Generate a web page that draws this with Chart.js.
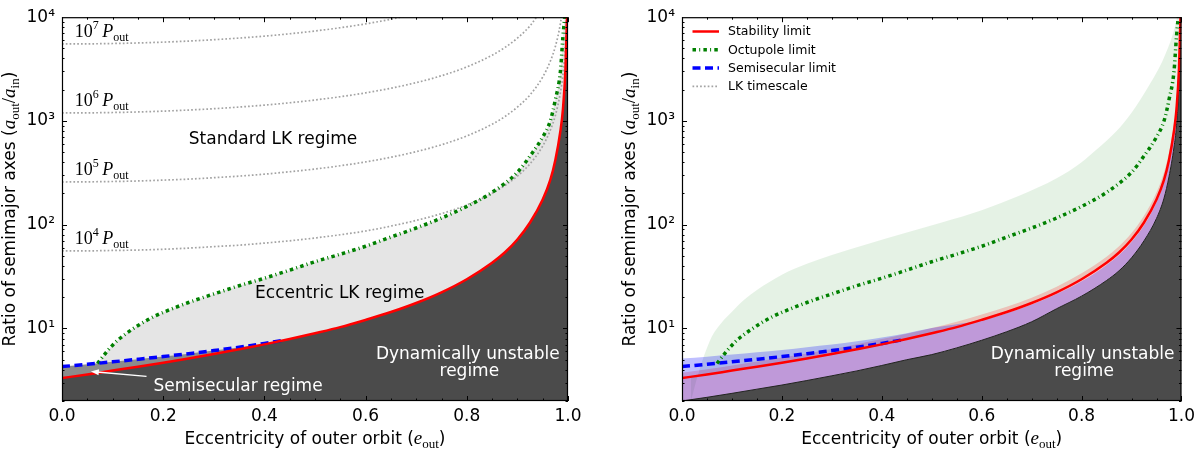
<!DOCTYPE html>
<html>
<head>
<meta charset="utf-8">
<script src="https://cdn.jsdelivr.net/npm/chart.js@4.4.1/dist/chart.umd.min.js"></script>
<style>
  html, body { margin: 0; padding: 0; background: #fff; }
  #wrap { display: flex; width: 1200px; height: 450px; }
  canvas { display: block; }
</style>
</head>
<body>
<div id="wrap">
  <canvas id="left-chart" width="600" height="450"></canvas>
  <canvas id="right-chart" width="600" height="450"></canvas>
</div>
<script>
// Eccentricity grid shared by most curves
const ecc = [0, 0.05, 0.1, 0.15, 0.2, 0.25, 0.3, 0.35, 0.4, 0.45,
  0.5, 0.55, 0.6, 0.65, 0.7, 0.75, 0.8, 0.85,
  0.875, 0.9, 0.925, 0.95, 0.965, 0.975, 0.985, 0.99, 0.995, 0.998, 1.0];

// Stability limit (red)
const stabilityLimit = [3.33, 3.6, 3.93, 4.28, 4.68, 5.14, 5.67, 6.3, 7.03, 7.92,
  9.0, 10.3, 12.1, 14.4, 17.6, 22.3, 29.8, 43,
  54, 72, 105, 175, 270, 420, 800, 1300, 3200, 10000, 30000];

// Semisecular limit (blue), ends where it meets the stability limit
const semiEcc = [0, 0.05, 0.1, 0.15, 0.2, 0.25, 0.3, 0.35, 0.4, 0.44];
const semisecularLimit = [4.29, 4.52, 4.77, 5.05, 5.36, 5.72, 6.12, 6.6, 7.18, 7.75];

// Octupole limit (green)
const octEcc = [0.07, 0.08, 0.09, 0.1, 0.11, 0.125, 0.14, 0.16, 0.18, 0.2,
  0.225, 0.25, 0.3, 0.35, 0.4, 0.45, 0.5, 0.55, 0.6, 0.65, 0.7, 0.75, 0.8, 0.85,
  0.9, 0.925, 0.95, 0.965, 0.975, 0.985, 0.99, 0.995];
const octupoleLimit = [4.6, 5.3, 6.1, 6.9, 7.7, 8.8, 9.9, 11.4, 12.9, 14.3,
  16, 17.8, 21.5, 25.8, 30.5, 36.5, 44, 52, 62, 76, 93, 116, 150, 205,
  320, 460, 700, 1000, 1600, 3000, 6500, 12000];

// LK timescale contours (grey dotted), on the ecc grid until they leave the plot
const lkExponents = [4, 5, 6, 7];
const lk1e4 = [56, 56, 56.5, 57, 58, 59.5, 61.5, 63.5, 66.5, 70,
  74.5, 80, 87, 97, 110, 128, 155, 201,
  238, 294, 387, 573, 814, 1130, 1880, 2810, 5600, 14000];
const lk1e5 = [258, 259, 261, 264, 269, 275, 284, 294, 307, 324,
  344, 370, 403, 447, 506, 590, 717, 930,
  1100, 1360, 1785, 2650, 3760, 5220, 8670, 12960];
const lk1e6 = [1194, 1197, 1206, 1221, 1244, 1274, 1312, 1361, 1421, 1497,
  1592, 1712, 1866, 2068, 2341, 2729, 3317, 4303,
  5094, 6284, 8263, 12245];
const lk1e7 = [5520, 5534, 5576, 5647, 5750, 5888, 6066, 6291, 6571, 6922,
  7360, 7914, 8625, 9559, 10824];

// Right panel: uncertainty bands
const octBandEcc = [0.018, 0.025, 0.035, 0.045, 0.06, 0.08, 0.1, 0.125, 0.15, 0.2,
  0.25, 0.3, 0.37, 0.45, 0.52, 0.6, 0.675, 0.75, 0.8, 0.83, 0.87, 0.9,
  0.935, 0.965, 0.985, 0.995];
const octBandUpper = [2.0, 2.7, 4.0, 5.6, 8.4, 11.5, 14.5, 19, 23.5, 33,
  42, 51, 65, 84, 105, 138, 190, 280, 400, 530, 800, 1200,
  2200, 4100, 7500, 12000];
const stabBandUpper = [3.75, 4.05, 4.4, 4.8, 5.25, 5.75, 6.35, 7.05, 7.9, 8.9,
  10.1, 11.6, 13.6, 16.2, 19.8, 25.2, 34, 49,
  62, 83, 122, 205, 320, 500, 960, 1600, 4000, 12000];
const semiBandUpper = [5.15, 5.35, 5.6, 5.9, 6.2, 6.6, 7.0, 7.55, 8.2, 9.0,
  10.1, 11.0, 12.0, 14.0, 17.0, 21.5, 28.5, 41,
  51, 68, 99, 165, 255, 400, 760, 1230, 3000, 9500];
const stabBandLower = [2.0, 2.17, 2.37, 2.6, 2.85, 3.15, 3.5, 3.9, 4.4, 5.0,
  5.6, 6.5, 7.7, 9.3, 11.6, 15.5, 20.5, 29,
  36, 48, 70, 115, 180, 290, 560, 900, 2300, 8000, 30000];

// Axis ticks
const xTickStep = 0.2;
const yDecades = [10, 100, 1000, 10000];
const yTickLabels = ['10\u00b9', '10\u00b2', '10\u00b3', '10\u2074'];

const SANS = '"DejaVu Sans", sans-serif';
const SERIF = '"Liberation Serif", "DejaVu Serif", serif';
const DARK = '#4b4b4b';
const MID = '#8c8c8c';
const LIGHT = '#e5e5e5';
const RED = '#ff0000';
const BLUE = '#0000ff';
const GREEN = '#008000';
const LKGREY = '#a3a3a3';

const styles = {
  stab: { borderColor: RED, borderWidth: 2.5, borderDash: [] },
  semi: { borderColor: BLUE, borderWidth: 3.5, borderDash: [8, 4.5] },
  oct: { borderColor: GREEN, borderWidth: 3.5, borderDash: [3.5, 3.2, 1, 3.2] },
  lk: { borderColor: LKGREY, borderWidth: 1.7, borderDash: [1.7, 2.1] }
};

function pts(xs, ys) {
  return ys.map((y, i) => ({ x: xs[i], y: y }));
}

function lineSet(label, data, style, order) {
  return Object.assign({
    label: label, data: data, fill: false, pointRadius: 0, clip: 0,
    cubicInterpolationMode: 'monotone', order: order
  }, style);
}

function fillSet(data, fill, color, order, border) {
  return {
    data: data, fill: fill, backgroundColor: color, pointRadius: 0, clip: 0,
    borderWidth: border ? border.width : 0, borderColor: border ? border.color : 'transparent',
    cubicInterpolationMode: 'monotone', order: order
  };
}

function makeScales(yWidth) {
  return {
    x: {
      type: 'linear', min: 0, max: 1,
      grid: { display: false, drawTicks: false }, border: { display: false },
      ticks: {
        stepSize: xTickStep, padding: 5, color: '#000', maxRotation: 0,
        font: { family: SANS, size: 17 }, callback: v => v.toFixed(1)
      },
      afterFit: s => { s.height = 49; }
    },
    y: {
      type: 'logarithmic', min: 2, max: 10000,
      grid: { display: false, drawTicks: false }, border: { display: false },
      ticks: {
        padding: 7, color: '#000', font: { family: SANS, size: 17 },
        callback: v => yTickLabels[yDecades.indexOf(v)]
      },
      afterBuildTicks: s => { s.ticks = yDecades.map(v => ({ value: v })); },
      afterFit: s => { s.width = yWidth; }
    }
  };
}

// Draws runs of text with different fonts / offsets on one baseline
function drawRich(ctx, runs, x, y, align) {
  let total = 0;
  runs.forEach(r => { ctx.font = r.font; r.w = ctx.measureText(r.text).width; total += r.w; });
  let cx = align === 'center' ? x - total / 2 : x;
  runs.forEach(r => {
    ctx.font = r.font;
    ctx.fillText(r.text, cx, y + (r.dy || 0));
    cx += r.w;
  });
}

const yTitleRuns = () => [
  { text: 'Ratio of semimajor axes (', font: `17px ${SANS}` },
  { text: 'a', font: `italic 19px ${SERIF}` },
  { text: 'out', font: `13px ${SERIF}`, dy: 4 },
  { text: '/', font: `19px ${SERIF}` },
  { text: 'a', font: `italic 19px ${SERIF}` },
  { text: 'in', font: `13px ${SERIF}`, dy: 4 },
  { text: ')', font: `17px ${SANS}` }
];
const xTitleRuns = () => [
  { text: 'Eccentricity of outer orbit (', font: `17px ${SANS}` },
  { text: 'e', font: `italic 19px ${SERIF}` },
  { text: 'out', font: `13px ${SERIF}`, dy: 4 },
  { text: ')', font: `17px ${SANS}` }
];

// Frame, inward ticks and axis titles
function framePlugin(yTitleX) {
  return {
    id: 'frame',
    afterDraw(chart) {
      const { ctx, chartArea: a, scales: { x, y } } = chart;
      ctx.save();
      ctx.strokeStyle = '#000';
      ctx.lineWidth = 1;
      ctx.setLineDash([]);
      ctx.beginPath();
      for (let i = 0; i <= 20; i++) {
        const px = Math.round(x.getPixelForValue(i * 0.05)) + 0.5;
        const len = i % 4 === 0 ? 5 : 2.5;
        ctx.moveTo(px, a.bottom); ctx.lineTo(px, a.bottom - len);
        ctx.moveTo(px, a.top); ctx.lineTo(px, a.top + len);
      }
      for (let d = 0; d < 4; d++) {
        for (let m = 1; m <= 9; m++) {
          const v = m * Math.pow(10, d);
          if (v < 2 || v > 10000) continue;
          const py = Math.round(y.getPixelForValue(v)) + 0.5;
          const len = m === 1 ? 5 : 2.5;
          ctx.moveTo(a.left, py); ctx.lineTo(a.left + len, py);
          ctx.moveTo(a.right, py); ctx.lineTo(a.right - len, py);
        }
      }
      ctx.stroke();
      ctx.lineWidth = 1.2;
      ctx.strokeRect(a.left + 0.5, a.top + 0.5, a.right - a.left - 1, a.bottom - a.top - 1);

      ctx.fillStyle = '#000';
      ctx.textAlign = 'left';
      ctx.textBaseline = 'alphabetic';
      drawRich(ctx, xTitleRuns(), (a.left + a.right) / 2, 444, 'center');
      ctx.translate(yTitleX, (a.top + a.bottom) / 2);
      ctx.rotate(-Math.PI / 2);
      drawRich(ctx, yTitleRuns(), 0, 0, 'center');
      ctx.restore();
    }
  };
}

function drawUnstableLabel(ctx, x, y) {
  ctx.fillStyle = '#fff';
  ctx.font = `17px ${SANS}`;
  ctx.textAlign = 'center';
  ctx.fillText('Dynamically unstable', x.getPixelForValue(0.802), y.getPixelForValue(5.08));
  ctx.fillText('regime', x.getPixelForValue(0.805), y.getPixelForValue(3.5));
}

// Text annotations of the left panel
const leftLabels = {
  id: 'leftLabels',
  afterDatasetsDraw(chart) {
    const { ctx, scales: { x, y } } = chart;
    ctx.save();
    ctx.textBaseline = 'alphabetic';
    ctx.fillStyle = '#000';
    ctx.font = `17px ${SANS}`;
    ctx.textAlign = 'center';
    ctx.fillText('Standard LK regime', x.getPixelForValue(0.417), y.getPixelForValue(597));
    ctx.fillText('Eccentric LK regime', x.getPixelForValue(0.549), y.getPixelForValue(19.8));

    const starts = [lk1e4[0], lk1e5[0], lk1e6[0], lk1e7[0]];
    ctx.textAlign = 'left';
    lkExponents.forEach((p, i) => {
      const by = y.getPixelForValue(starts[i]) - 7;
      drawRich(ctx, [
        { text: '10', font: `18px ${SERIF}` },
        { text: String(p), font: `12px ${SERIF}`, dy: -8 },
        { text: '\u2009', font: `18px ${SERIF}` },
        { text: 'P', font: `italic 18px ${SERIF}` },
        { text: 'out', font: `12px ${SERIF}`, dy: 4 }
      ], x.getPixelForValue(0.025), by, 'left');
    });

    drawUnstableLabel(ctx, x, y);
    ctx.textAlign = 'center';
    ctx.fillText('Semisecular regime', x.getPixelForValue(0.348), y.getPixelForValue(2.47));

    // white arrow pointing at the semisecular sliver
    const tx = x.getPixelForValue(0.167), ty = y.getPixelForValue(3.45);
    const hx = x.getPixelForValue(0.057), hy = y.getPixelForValue(3.85);
    const ang = Math.atan2(hy - ty, hx - tx);
    ctx.strokeStyle = '#fff';
    ctx.lineWidth = 1.3;
    ctx.beginPath();
    ctx.moveTo(tx, ty);
    ctx.lineTo(hx - 6 * Math.cos(ang), hy - 6 * Math.sin(ang));
    ctx.stroke();
    ctx.beginPath();
    ctx.moveTo(hx, hy);
    ctx.lineTo(hx - 8 * Math.cos(ang) + 3 * Math.sin(ang), hy - 8 * Math.sin(ang) - 3 * Math.cos(ang));
    ctx.lineTo(hx - 8 * Math.cos(ang) - 3 * Math.sin(ang), hy - 8 * Math.sin(ang) + 3 * Math.cos(ang));
    ctx.closePath();
    ctx.fill();
    ctx.restore();
  }
};

// Legend and label of the right panel
const rightLabels = {
  id: 'rightLabels',
  afterDatasetsDraw(chart) {
    const { ctx, chartArea: a, scales: { x, y } } = chart;
    ctx.save();
    drawUnstableLabel(ctx, x, y);
    ctx.font = `12.5px ${SANS}`;
    ctx.textAlign = 'left';
    ctx.textBaseline = 'middle';
    [0, 1, 2, 3].forEach((di, i) => {
      const ds = chart.data.datasets[di];
      const ly = a.top + 14.3 + i * 18.3;
      ctx.strokeStyle = ds.borderColor;
      ctx.lineWidth = ds.borderWidth;
      ctx.setLineDash(ds.borderDash);
      ctx.beginPath();
      ctx.moveTo(a.left + 10.5, ly);
      ctx.lineTo(a.left + 37, ly);
      ctx.stroke();
      ctx.fillStyle = '#000';
      ctx.fillText(ds.label, a.left + 46, ly + 0.5);
    });
    ctx.restore();
  }
};

const baseOptions = (yWidth, rightPad) => ({
  responsive: false,
  animation: false,
  layout: { padding: { top: 14, right: rightPad, left: 0, bottom: 0 } },
  plugins: { legend: { display: false }, tooltip: { enabled: false } },
  scales: makeScales(yWidth)
});

document.addEventListener('DOMContentLoaded', () => {
  const stab = pts(ecc, stabilityLimit);
  const semi = pts(semiEcc, semisecularLimit);
  const oct = pts(octEcc, octupoleLimit);

  // Left panel: regimes
  new Chart(document.getElementById('left-chart'), {
    type: 'line',
    data: {
      datasets: [
        lineSet('Stability limit', stab, styles.stab, 1),
        lineSet('Semisecular limit', semi, styles.semi, 2),
        lineSet('Octupole limit', oct, styles.oct, 3),
        lineSet('LK 1e4', pts(ecc, lk1e4), styles.lk, 4),
        lineSet('LK 1e5', pts(ecc, lk1e5), styles.lk, 4),
        lineSet('LK 1e6', pts(ecc, lk1e6), styles.lk, 4),
        lineSet('LK 1e7', pts(ecc, lk1e7), styles.lk, 4),
        fillSet(stab, 'start', DARK, 10),
        fillSet(semi, 'start', MID, 11),
        fillSet(oct, 'start', LIGHT, 12)
      ]
    },
    options: baseOptions(62, 32),
    plugins: [leftLabels, framePlugin(14.5)]
  });

  // Right panel: limits with their spread
  new Chart(document.getElementById('right-chart'), {
    type: 'line',
    data: {
      datasets: [
        lineSet('Stability limit', stab, styles.stab, 1),
        lineSet('Octupole limit', oct, styles.oct, 2),
        lineSet('Semisecular limit', semi, styles.semi, 3),
        lineSet('LK timescale', [], styles.lk, 4),
        fillSet(pts(ecc, stabBandLower), 'start', DARK, 5, { width: 1, color: '#222' }),
        fillSet(pts(ecc, semiBandUpper), 4, 'rgba(0,0,255,0.25)', 6),
        fillSet(pts(ecc, stabBandUpper), 4, 'rgba(255,0,0,0.2)', 7),
        fillSet(pts(octBandEcc, octBandUpper), 0, 'rgba(0,128,0,0.1)', 8)
      ]
    },
    options: baseOptions(82, 12),
    plugins: [rightLabels, framePlugin(34.5)]
  });
});
</script>
</body>
</html>
